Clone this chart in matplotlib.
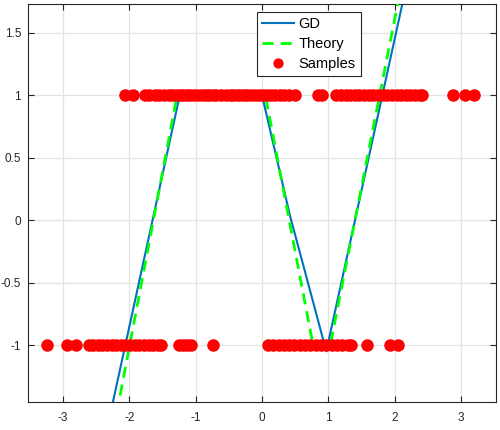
import matplotlib
matplotlib.use("Agg")
import matplotlib.pyplot as plt
import numpy as np

# sample locations (label +1 and -1)
top_x = [-2.07, -1.95, -1.76, -1.70, -1.62, -1.55, -1.48, -1.41, -1.36, -1.30,
         -1.24, -1.19, -1.13, -1.08, -1.02, -0.97, -0.91, -0.85, -0.80, -0.74,
         -0.69, -0.62, -0.55, -0.49, -0.44, -0.38, -0.33, -0.27, -0.22, -0.16,
         -0.10, -0.05, 0.02, 0.08, 0.14, 0.20, 0.27, 0.33, 0.41, 0.50,
         0.84, 0.91, 1.12, 1.19, 1.26, 1.33, 1.40, 1.47, 1.54, 1.61,
         1.68, 1.75, 1.82, 1.89, 1.96, 2.03, 2.10, 2.17, 2.24, 2.31,
         2.38, 2.41, 2.88, 3.06, 3.20]
bot_x = [-3.24, -2.94, -2.81, -2.61, -2.55, -2.48, -2.41, -2.34, -2.27, -2.20,
         -2.13, -2.06, -1.99, -1.92, -1.85, -1.78, -1.71, -1.64, -1.57, -1.52,
         -1.25, -1.19, -1.13, -1.07, -0.74,
         0.09, 0.17, 0.25, 0.33, 0.41, 0.49, 0.57, 0.65, 0.73, 0.81,
         0.89, 0.97, 1.05, 1.13, 1.21, 1.29, 1.34, 1.58, 1.93, 2.05]

# piecewise-linear curves
gd_x = [-2.30, -1.24, 0.00, 0.42, 0.97, 2.20]
gd_y = [-1.58, 1.00, 1.00, 0.04, -1.05, 1.93]
th_x = [-2.30, -1.28, 0.05, 0.77, 1.03, 2.20]
th_y = [-1.85, 1.00, 1.00, -1.00, -1.00, 2.14]

plt.rcParams["font.family"] = ["Liberation Sans", "DejaVu Sans"]
fig = plt.figure(figsize=(5.0, 4.3), dpi=100)
ax = fig.add_axes([0.056, 0.065, 0.936, 0.926])

ax.plot(gd_x, gd_y, color="#0072BD", lw=1.5, label="GD", zorder=2)
ax.plot(th_x, th_y, color="#00FF00", lw=2.0, ls=(0, (4, 2.5)), label="Theory", zorder=3)
ax.plot(top_x + bot_x, [1] * len(top_x) + [-1] * len(bot_x), "o", color="#FF0000",
        ms=8, ls="", label="Samples", zorder=4)

ax.set_xlim(-3.53, 3.53)
ax.set_ylim(-1.456, 1.73)
ax.set_xticks([-3, -2, -1, 0, 1, 2, 3])
ax.set_yticks([-1, -0.5, 0, 0.5, 1, 1.5])
ax.set_xticklabels(["-3", "-2", "-1", "0", "1", "2", "3"])
ax.set_yticklabels(["-1", "-0.5", "0", "0.5", "1", "1.5"])
ax.grid(True, color="#e3e3e3", lw=0.9)
ax.set_axisbelow(True)
ax.tick_params(direction="in", length=4, width=0.8, colors="#262626", labelsize=8.5,
               top=True, right=True)
ax.tick_params(axis="x", pad=7)
ax.tick_params(axis="y", pad=5)
for sp in ax.spines.values():
    sp.set_color("#262626")
    sp.set_linewidth(0.8)

leg = ax.legend(loc="upper center", bbox_to_anchor=(0.6, 0.979), fontsize=10.5,
                frameon=True, fancybox=False, edgecolor="#262626", framealpha=1,
                borderpad=0.35, labelspacing=0.4, handlelength=2.2, handletextpad=0.3,
                borderaxespad=0, markerscale=0.8)
leg.get_frame().set_linewidth(0.8)

fig.savefig("out.png", dpi=100)
